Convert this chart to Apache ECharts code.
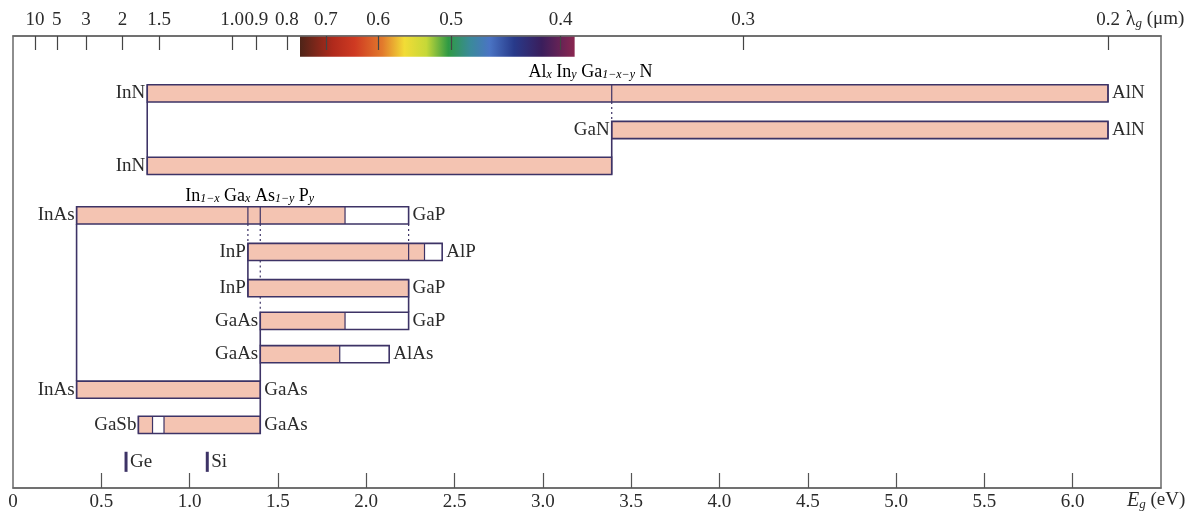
<!DOCTYPE html>
<html>
<head>
<meta charset="utf-8">
<script src="https://cdn.jsdelivr.net/npm/echarts@6/dist/echarts.min.js"></script>
<style>
  html, body { margin: 0; padding: 0; background: #fff; }
  #chart { width: 1203px; height: 520px; }
</style>
</head>
<body>
<div id="chart"></div>
<script>
// ---- data (energies in eV) ----
const rowY       = [1.60, 2.62, 3.62, 5.00, 6.02, 7.03, 7.94, 8.87, 9.86, 10.84];   // vertical slot of each bar
const rowStart   = [0.76, 3.39, 0.76, 0.36, 1.33, 1.33, 1.40, 1.40, 0.36, 0.71];
const rowEnd     = [6.20, 6.20, 3.39, 2.24, 2.43, 2.24, 2.24, 2.13, 1.40, 1.40];
const leftLabel  = ['InN', 'GaN', 'InN', 'InAs', 'InP', 'InP', 'GaAs', 'GaAs', 'InAs', 'GaSb'];
const rightLabel = ['AlN', 'AlN', '', 'GaP', 'AlP', 'GaP', 'GaP', 'AlAs', 'GaAs', 'GaAs'];

// shaded part of each bar: [row, from, to]
const fillRanges = [
    [0, 0.76, 6.20], [1, 3.39, 6.20], [2, 0.76, 3.39],
    [3, 0.36, 1.88], [4, 1.33, 2.33], [5, 1.33, 2.24],
    [6, 1.40, 1.88], [7, 1.40, 1.85], [8, 0.36, 1.40],
    [9, 0.71, 0.79], [9, 0.855, 1.40]
];
// vertical lines inside bars: [row, E]
const dividers = [[0, 3.39], [3, 1.33], [3, 1.40], [4, 2.24]];

// lines joining bars: [E, fromRow, toRow, dotted]
const connectors = [
    [0.76, 0, 2, 0], [3.39, 0, 1, 1], [3.39, 1, 2, 0],
    [0.36, 3, 8, 0],
    [1.33, 3, 4, 1], [1.33, 4, 5, 0],
    [1.40, 3, 4, 1], [1.40, 4, 5, 1], [1.40, 5, 6, 1],
    [1.40, 6, 7, 0], [1.40, 7, 8, 0], [1.40, 8, 9, 0],
    [2.24, 3, 4, 1], [2.24, 5, 6, 0]
];

// elemental semiconductors
const markerE     = [0.64, 1.10];
const markerLabel = ['Ge', 'Si'];
const markerY     = 11.87;

// alloy names (rich text), centre E and slot
const groupTitle = [
    '{n|Al}{s|x}{n| In}{s|y}{n| Ga}{s|1−x−y}{n| N}',
    '{n|In}{s|1−x}{n| Ga}{s|x}{n| As}{s|1−y}{n| P}{s|y}'
];
const groupE = [3.27, 1.34];
const groupY = [1.00, 4.46];

// top axis: wavelength ticks (µm)
const lambdaTicks = [10, 5, 3, 2, 1.5, 1.0, 0.9, 0.8, 0.7, 0.6, 0.5, 0.4, 0.3, 0.2];
const lambdaLabels = ['10', '5', '3', '2', '1.5', '1.0', '0.9', '0.8', '0.7', '0.6', '0.5', '0.4', '0.3', '0.2'];
// bottom axis ticks (eV)
const energyTicks = [0, 0.5, 1.0, 1.5, 2.0, 2.5, 3.0, 3.5, 4.0, 4.5, 5.0, 5.5, 6.0];

// visible spectrum strip
const spectrumE = [1.625, 3.18];
const spectrumColors = [
    [0.00, '#4e2418'], [0.12, '#b02a1c'], [0.20, '#cf3a22'], [0.30, '#e27a2c'],
    [0.38, '#f2dc36'], [0.46, '#c6d838'], [0.54, '#2f9a44'], [0.62, '#3a8a9a'],
    [0.69, '#4a74c4'], [0.78, '#283a8a'], [0.88, '#3a1e5c'], [1.00, '#8a2650']
];

const hb = 0.24;   // half bar height (slot units)
const FONT = 'Liberation Serif';
const FS = 19;
const INK = '#2b2b2b';
const EDGE = '#3d3366';
const FILL = '#f4c4b2';

function lam2E(l) { return 1.24 / l; }

function renderBar(params, api) {
    let i = api.value(0);
    let y = rowY[i];
    let kids = [];
    let top = api.coord([0, y - hb])[1];
    let bot = api.coord([0, y + hb])[1];
    fillRanges.filter(f => f[0] === i).forEach(function (f) {
        let a = api.coord([f[1], y])[0], b = api.coord([f[2], y])[0];
        kids.push({type: 'rect', shape: {x: a, y: top, width: b - a, height: bot - top},
            style: {fill: FILL}});
        [a, b].forEach(function (x) {
            kids.push({type: 'line', shape: {x1: x, y1: top, x2: x, y2: bot},
                style: {stroke: EDGE, lineWidth: 1.2}});
        });
    });
    dividers.filter(d => d[0] === i).forEach(function (d) {
        let x = api.coord([d[1], y])[0];
        kids.push({type: 'line', shape: {x1: x, y1: top, x2: x, y2: bot},
            style: {stroke: EDGE, lineWidth: 1.2}});
    });
    let x0 = api.coord([rowStart[i], y])[0], x1 = api.coord([rowEnd[i], y])[0];
    kids.push({type: 'rect', shape: {x: x0, y: top, width: x1 - x0, height: bot - top},
        style: {fill: null, stroke: EDGE, lineWidth: 1.6}});
    let yc = (top + bot) / 2;
    kids.push({type: 'text', style: {text: leftLabel[i], x: x0 - 2, y: yc, align: 'right',
        verticalAlign: 'middle', font: FS + 'px "' + FONT + '"', fill: INK}});
    if (rightLabel[i]) {
        kids.push({type: 'text', style: {text: rightLabel[i], x: x1 + 4, y: yc, align: 'left',
            verticalAlign: 'middle', font: FS + 'px "' + FONT + '"', fill: INK}});
    }
    return {type: 'group', children: kids};
}

function renderConnector(params, api) {
    let c = connectors[api.value(0)];
    let p0 = api.coord([c[0], rowY[c[1]] + hb]);
    let p1 = api.coord([c[0], rowY[c[2]] - hb]);
    return {type: 'line', shape: {x1: p0[0], y1: p0[1], x2: p1[0], y2: p1[1]},
        style: {stroke: EDGE, lineWidth: c[3] ? 1.2 : 1.6, lineDash: c[3] ? [2, 3] : null}};
}

function renderMarker(params, api) {
    let i = api.value(0);
    let p0 = api.coord([markerE[i], markerY - 0.28]);
    let p1 = api.coord([markerE[i], markerY + 0.28]);
    return {type: 'group', children: [
        {type: 'line', shape: {x1: p0[0], y1: p0[1], x2: p1[0], y2: p1[1]},
            style: {stroke: EDGE, lineWidth: 3}},
        {type: 'text', style: {text: markerLabel[i], x: p0[0] + 4, y: (p0[1] + p1[1]) / 2,
            align: 'left', verticalAlign: 'middle', font: FS + 'px "' + FONT + '"', fill: INK}}
    ]};
}

const richSub = {
    n: {fontFamily: FONT, fontSize: 18, color: INK, verticalAlign: 'top', lineHeight: 18, padding: [0, 0, 4, 0]},
    s: {fontFamily: FONT, fontSize: 12, fontStyle: 'italic', color: INK, verticalAlign: 'bottom', lineHeight: 13}
};

function renderTitle(params, api) {
    let i = api.value(0);
    let p = api.coord([groupE[i], groupY[i]]);
    return {type: 'text', style: {text: groupTitle[i], x: p[0], y: p[1], align: 'center',
        verticalAlign: 'middle', rich: richSub}};
}

function renderSpectrum(params, api) {
    let p0 = api.coord([spectrumE[0], 0]);
    let p1 = api.coord([spectrumE[1], 0.58]);
    return {type: 'rect', shape: {x: p0[0], y: p0[1], width: p1[0] - p0[0], height: p1[1] - p0[1]},
        style: {fill: new echarts.graphic.LinearGradient(0, 0, 1, 0,
            spectrumColors.map(s => ({offset: s[0], color: s[1]})))}};
}

let chart = echarts.init(document.getElementById('chart'));
let option = {
    animation: false,
    textStyle: {fontFamily: FONT},
    grid: {left: 13, right: 42, top: 36, bottom: 32, show: true, borderColor: '#6a6a6a', borderWidth: 1.5},
    xAxis: [
        {
            type: 'value', position: 'bottom', min: 0, max: 6.5, interval: 0.5,
            splitLine: {show: false},
            axisLine: {show: true, onZero: false, lineStyle: {color: '#6a6a6a', width: 1.5}},
            axisTick: {inside: true, length: 15, lineStyle: {color: '#555', width: 1.2},
                customValues: energyTicks.slice(1)},
            axisLabel: {customValues: energyTicks, margin: 5, color: INK, fontFamily: FONT, fontSize: FS,
                formatter: v => (v === 0 ? '0' : v.toFixed(1))},
            name: '{e|E}{g|g}{u| (eV)}', nameLocation: 'end', nameGap: -34,
            nameTextStyle: {align: 'left', verticalAlign: 'top', padding: [3, 0, 0, 0],
                rich: {
                    e: {fontFamily: FONT, fontSize: 20, fontStyle: 'italic', color: INK, verticalAlign: 'top', lineHeight: 20, padding: [0, 0, 4, 0]},
                    g: {fontFamily: FONT, fontSize: 13, fontStyle: 'italic', color: INK, verticalAlign: 'bottom', lineHeight: 14},
                    u: {fontFamily: FONT, fontSize: 19, color: INK, verticalAlign: 'top', lineHeight: 20, padding: [0, 0, 4, 0]}
                }}
        },
        {
            type: 'value', position: 'top', min: 0, max: 6.5, z: 10,
            splitLine: {show: false},
            axisLine: {show: true, onZero: false, lineStyle: {color: '#6a6a6a', width: 1.5}},
            axisTick: {inside: true, length: 14, lineStyle: {color: '#444', width: 1.2},
                customValues: lambdaTicks.map(lam2E)},
            axisLabel: {customValues: lambdaTicks.map(lam2E), margin: 6, color: INK, fontFamily: FONT, fontSize: FS,
                formatter: function (v) {
                    let k = 0, best = 1e9;
                    lambdaTicks.forEach(function (l, j) {
                        let d = Math.abs(lam2E(l) - v);
                        if (d < best) { best = d; k = j; }
                    });
                    return lambdaLabels[k];
                }},
            name: '{l|λ}{g|g}{u| (μm)}', nameLocation: 'end', nameGap: -38,
            nameTextStyle: {align: 'left', verticalAlign: 'bottom', padding: [0, 0, 6, 0],
                rich: {
                    l: {fontFamily: FONT, fontSize: 20, color: INK, verticalAlign: 'top', lineHeight: 20, padding: [0, 0, 4, 0]},
                    g: {fontFamily: FONT, fontSize: 13, fontStyle: 'italic', color: INK, verticalAlign: 'bottom', lineHeight: 14},
                    u: {fontFamily: FONT, fontSize: 19, color: INK, verticalAlign: 'top', lineHeight: 20, padding: [0, 0, 4, 0]}
                }}
        }
    ],
    yAxis: {
        type: 'value', min: 0, max: 12.6, inverse: true, show: false
    },
    series: [
        {type: 'custom', renderItem: renderSpectrum, data: [[0]], silent: true, z: 1},
        {type: 'custom', renderItem: renderConnector, data: connectors.map((c, i) => [i]), silent: true, z: 2},
        {type: 'custom', renderItem: renderBar, data: rowY.map((y, i) => [i]), silent: true, z: 3},
        {type: 'custom', renderItem: renderMarker, data: markerE.map((e, i) => [i]), silent: true, z: 3},
        {type: 'custom', renderItem: renderTitle, data: groupE.map((e, i) => [i]), silent: true, z: 3}
    ]
};
chart.setOption(option);
</script>
</body>
</html>
